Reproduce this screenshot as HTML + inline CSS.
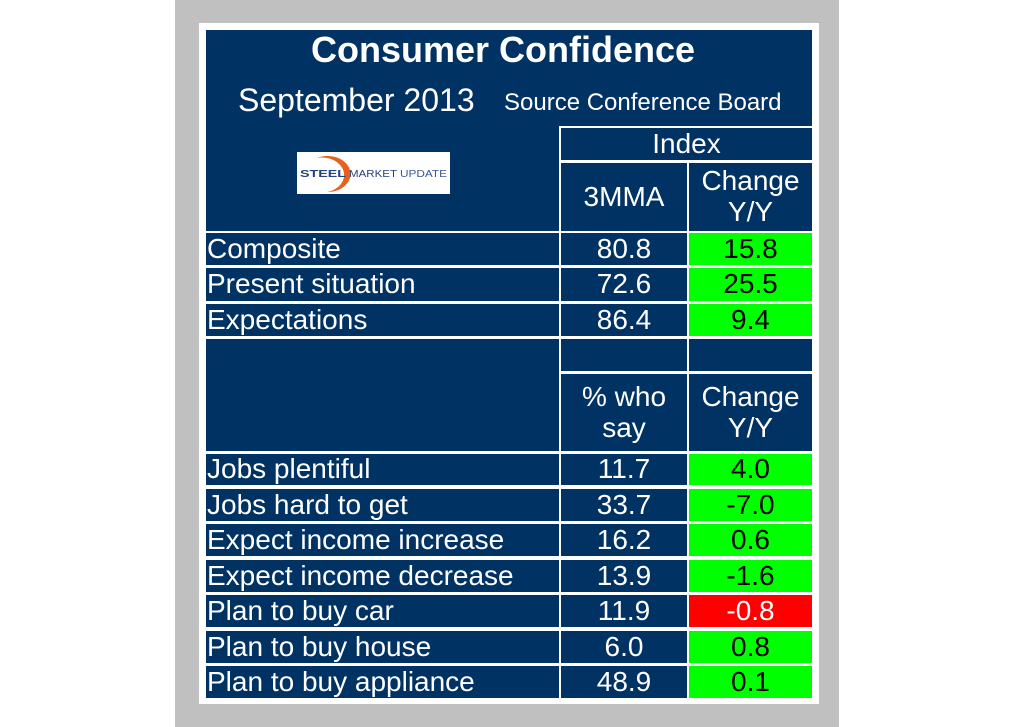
<!DOCTYPE html>
<html><head><meta charset="utf-8"><style>
body{margin:0;width:1033px;height:727px;background:#fff;position:relative;overflow:hidden;font-family:"Liberation Sans",Arial,sans-serif}
.abs{position:absolute}
.c{position:absolute;background:#003263;color:#fff;font-size:28px;display:flex;align-items:center;justify-content:center;box-sizing:border-box;line-height:1.1;text-align:center;white-space:nowrap}
.l{justify-content:flex-start;padding-left:1px}
.g{background:#00ff00;color:#000}
.r{background:#ff0000;color:#fff}
</style></head><body>
<div class="abs" style="left:175px;top:0;width:664px;height:727px;background:#c0c0c0"></div>
<div class="abs" style="left:199px;top:23px;width:620px;height:681px;background:#fff"></div>
<div class="abs" style="left:206px;top:30px;width:606px;height:96px;background:#003263"></div>
<div class="abs" style="left:206px;top:29px;width:594px;text-align:center;color:#fff;font-weight:bold;font-size:36px">Consumer Confidence</div>
<div class="abs" style="left:238px;top:82px;color:#fff;font-size:32px">September 2013</div>
<div class="abs" style="left:504px;top:89px;color:#fff;font-size:24px">Source Conference Board</div>
<div id="t"></div>
<div class="abs" style="left:297px;top:152px;width:153px;height:42px;background:#fff;overflow:hidden">
<svg width="153" height="42"><path d="M20 6 A23 18 0 1 1 30 40 A19 15 0 1 0 20 6Z" fill="#e8601c"/><text x="3" y="25" font-family="Liberation Sans" font-size="10" font-weight="bold" fill="#25437a" textLength="46" lengthAdjust="spacingAndGlyphs">STEEL</text><text x="52" y="25" font-family="Liberation Sans" font-size="10" fill="#25437a" textLength="48" lengthAdjust="spacingAndGlyphs">MARKET</text><text x="103" y="25" font-family="Liberation Sans" font-size="10" fill="#3a5a9a" textLength="47" lengthAdjust="spacingAndGlyphs">UPDATE</text></svg></div>
<script>
const rowLabels=["Composite","Present situation","Expectations","Jobs plentiful","Jobs hard to get","Expect income increase","Expect income decrease","Plan to buy car","Plan to buy house","Plan to buy appliance"];
const levels=["80.8","72.6","86.4","11.7","33.7","16.2","13.9","11.9","6.0","48.9"];
const changes=["15.8","25.5","9.4","4.0","-7.0","0.6","-1.6","-0.8","0.8","0.1"];
const t=document.getElementById('t');
const X=[[206,559],[561,687],[689,812]];
function cell(x0,x1,y0,y1,txt,cls,name){const d=document.createElement('div');d.className='c '+(cls||'');
d.style.left=x0+'px';d.style.top=y0+'px';d.style.width=(x1-x0)+'px';d.style.height=(y1-y0)+'px';d.innerHTML=txt;


t.appendChild(d);}
cell(206,559,126,231,'','', 'logo-header-cell');
cell(561,812,128,160,'Index','', 'index-header');
cell(561,687,163,231,'3MMA','', 'header-3mma');
cell(689,812,163,231,'Change<br>Y/Y','', 'header-change-index');
const tops=[233,268,304,454,489,524,560,595,631,666];
const bots=[265,301,336,485,521,556,592,627,663,698];
rowLabels.forEach((lab,i)=>{
 cell(X[0][0],X[0][1],tops[i],bots[i],lab,'l','row-label');
 cell(X[1][0],X[1][1],tops[i],bots[i],levels[i],'','row-value');
 cell(X[2][0],X[2][1],tops[i],bots[i],changes[i],lab==='Plan to buy car'?'r':'g','row-change');
});
cell(206,559,339,451,'','', 'spacer-label-cell');
cell(561,687,339,371,'','', 'spacer-cell');
cell(689,812,339,371,'','', 'spacer-cell');
cell(561,687,374,451,'% who<br>say','', 'header-percent');
cell(689,812,374,451,'Change<br>Y/Y','', 'header-change-percent');
</script>
</body></html>
